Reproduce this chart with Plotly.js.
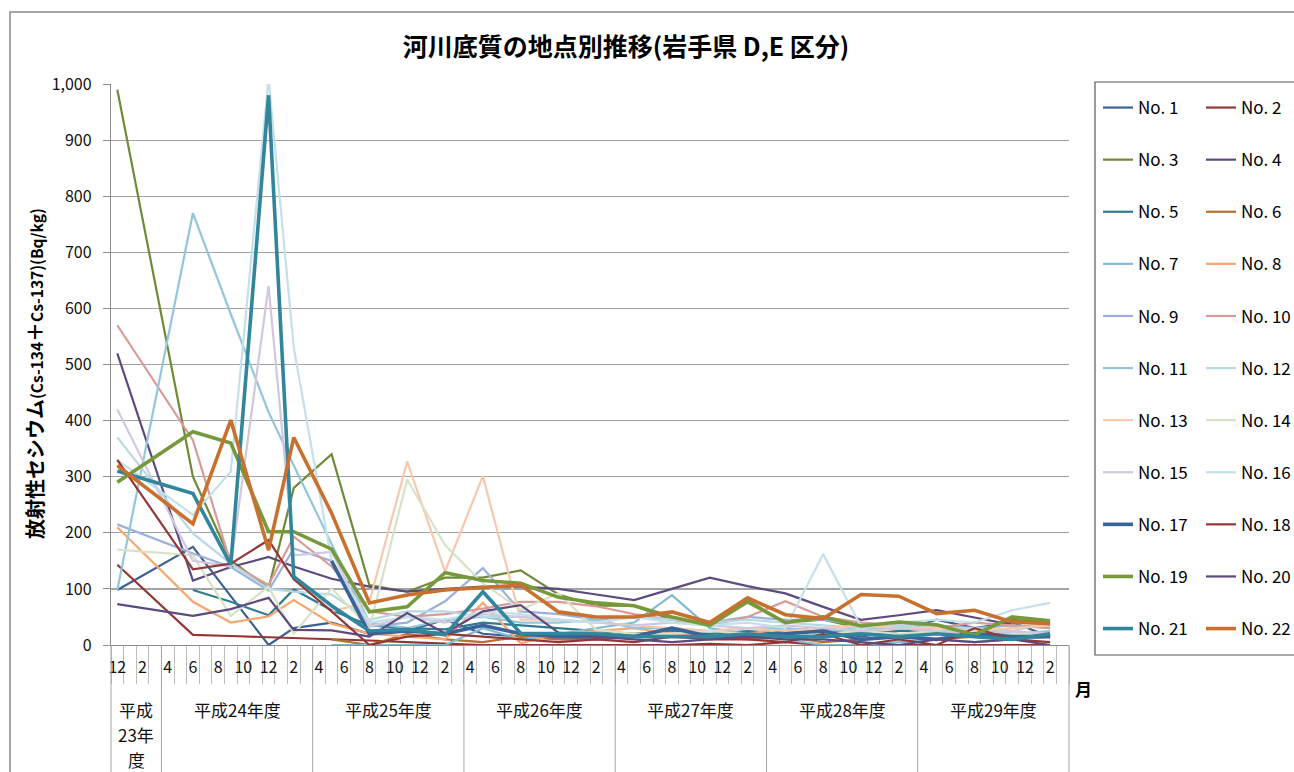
<!DOCTYPE html>
<html>
<head>
<meta charset="utf-8">
<script src="https://cdn.plot.ly/plotly-3.0.1.min.js"></script>
<style>html,body{margin:0;padding:0;background:#fff;}#chart{width:1294px;height:772px;}</style>
</head>
<body>
<div id="chart"></div>
<script>
// Sampling dates (year-month)
const sampleDates = ['2011-12','2012-06','2012-09','2012-12','2013-02','2013-05','2013-08','2013-11','2014-02','2014-05','2014-08','2014-11','2015-02','2015-05','2015-08','2015-11','2016-02','2016-05','2016-08','2016-11','2017-02','2017-05','2017-08','2017-11','2018-02'];

// Month labels of the category axis (Dec 2011 .. Mar 2018)
const axisMonths = ['12','1','2','3',
 '4','5','6','7','8','9','10','11','12','1','2','3',
 '4','5','6','7','8','9','10','11','12','1','2','3',
 '4','5','6','7','8','9','10','11','12','1','2','3',
 '4','5','6','7','8','9','10','11','12','1','2','3',
 '4','5','6','7','8','9','10','11','12','1','2','3',
 '4','5','6','7','8','9','10','11','12','1','2','3'];

// Fiscal year group labels (lines) and their month counts
const fiscalYears = [['平成','23年','度'],['平成24年度'],['平成25年度'],['平成26年度'],['平成27年度'],['平成28年度'],['平成29年度']];
const fiscalMonths = [4,12,12,12,12,12,12];

const seriesNames = ['No. 1','No. 2','No. 3','No. 4','No. 5','No. 6','No. 7','No. 8','No. 9','No. 10','No. 11','No. 12','No. 13','No. 14','No. 15','No. 16','No. 17','No. 18','No. 19','No. 20','No. 21','No. 22'];

const no1  = [98,175,87,0,30,40,20,25,45,20,15,15,10,15,30,15,15,25,30,15,25,45,30,40,15];
const no2  = [143,18,16,14,13,11,8,5,2,0,0,0,0,0,0,2,0,5,0,0,0,0,0,0,0];
const no3  = [990,300,151,101,280,340,107,95,120,120,133,90,70,70,45,35,80,40,45,30,40,35,20,45,40];
const no4  = [520,115,139,157,140,118,104,95,100,104,104,100,90,80,100,120,105,92,68,45,53,62,49,36,null];
const no5  = [null,98,77,53,99,62,35,30,28,40,35,30,25,20,25,20,25,20,30,20,25,25,20,20,20];
const no6  = [null,null,null,null,null,10,0,20,10,5,15,10,10,20,20,15,10,15,5,10,15,10,15,10,15];
const no7  = [null,null,null,null,null,0,0,0,0,30,10,20,30,40,89,30,20,10,0,0,5,10,5,10,15];
const no8  = [210,77,40,51,80,38,20,15,10,75,3,20,25,30,20,15,20,30,20,25,30,25,20,30,35];
const no9  = [215,163,139,97,172,150,33,40,78,137,60,55,45,50,45,40,50,45,45,35,40,35,30,35,30];
const no10 = [570,365,145,107,193,140,60,50,55,65,77,77,69,55,45,35,50,78,50,40,35,30,40,35,30];
const no11 = [98,770,590,415,320,180,40,30,45,50,40,40,45,30,30,25,30,30,25,30,30,25,30,20,25];
const no12 = [370,199,145,100,95,90,45,60,60,50,50,45,40,50,45,40,45,40,35,30,35,30,30,25,40];
const no13 = [null,null,null,null,null,60,77,327,131,301,45,45,40,35,30,25,30,25,30,35,30,30,25,30,35];
const no14 = [170,160,52,104,20,101,30,295,178,110,63,92,27,20,20,25,20,15,20,25,20,25,15,20,20];
const no15 = [420,150,140,640,160,166,33,50,40,55,50,45,40,35,40,35,30,35,30,25,30,25,20,25,20];
const no16 = [330,232,309,1010,530,150,40,50,45,60,55,45,40,50,40,35,40,30,162,33,40,45,40,62,75];
const no17 = [null,null,null,null,null,150,20,25,20,35,20,15,15,15,30,15,15,20,25,10,15,10,20,15,15];
const no18 = [330,135,145,187,117,60,0,15,20,15,10,5,10,5,15,10,10,5,20,0,10,0,30,10,5];
const no19 = [290,380,360,202,202,171,59,68,129,115,110,85,75,70,50,35,77,40,50,34,41,36,18,50,43];
const no20 = [73,52,64,84,27,26,15,57,21,60,71,22,15,10,5,10,15,10,10,5,0,10,5,10,0];
const no21 = [310,270,143,980,122,70,25,28,18,95,21,20,20,15,15,15,20,15,15,20,15,20,15,10,20];
const no22 = [320,216,401,169,370,235,75,89,98,103,107,59,50,50,59,40,84,54,47,90,87,56,62,41,38];

const allSeries = [no1,no2,no3,no4,no5,no6,no7,no8,no9,no10,no11,no12,no13,no14,no15,no16,no17,no18,no19,no20,no21,no22];

const colors = ['#3B6193','#943634','#6F8A36','#5F4A7E','#2F7C90','#B8702E',
  '#80BCD6','#F9A66F','#9BB1DB','#D99A98','#93C6DA','#B6D9E4',
  '#F8C8AE','#D6E3C6','#D1C8DD','#C4E0E9',
  '#3A6499','#953735','#77993C','#5E4A7E','#31869B','#C8712E'];
const thick = [false,false,false,false,false,false,false,false,false,false,false,false,false,false,false,false,true,false,true,false,true,true];

// map year-month to category index (first category = Dec 2011)
function catIndex(d){ const p=d.split('-'); return (parseInt(p[0])-2011)*12 + (parseInt(p[1])-12); }
const xs = sampleDates.map(catIndex);
const nCat = axisMonths.length;

const FONT = '"Noto Sans CJK JP", "Noto Sans", sans-serif';

const traces = allSeries.map((vals,i)=>({
  type:'scatter', mode:'lines', x: xs, y: vals, name: seriesNames[i],
  connectgaps:true,
  line:{color:colors[i], width: thick[i]?3.6:2.2},
  legend: (i%2===0)?'legend':'legend2',
  legendgroup:'g'+i,
  hoverinfo:'x+y+name'
}));

// axis tick values: every second category
const tickvals=[], ticktext=[];
for(let i=0;i<nCat;i+=2){ tickvals.push(i); ticktext.push(axisMonths[i]); }

const L=111, R=1069, T=84, B=645, W=1294, H=772;
const pw=R-L, ph=B-T;
const px2x = p => (p-L)/pw;
const py2y = p => (B-p)/ph;

const shapes=[], annotations=[];
// fiscal-year dividers
let acc=0;
const bounds=[0];
fiscalMonths.forEach(m=>{acc+=m; bounds.push(acc);});
bounds.forEach(b=>{
  shapes.push({type:'line', xref:'paper', yref:'paper', x0:b/nCat, x1:b/nCat, y0:0, y1:py2y(H+5), line:{color:'#a6a6a6', width:1}});
});
fiscalYears.forEach((lines,k)=>{
  const c=(bounds[k]+bounds[k+1])/2/nCat;
  lines.forEach((t,j)=>{
    annotations.push({xref:'paper', yref:'paper', x:c, y: py2y(709 + j*25), text:t, showarrow:false,
      xanchor:'center', yanchor:'middle', font:{family:FONT, size:17, color:'#111'}});
  });
});
annotations.push({xref:'paper', yref:'paper', x:px2x(1083), y:py2y(688), text:'<b>月</b>', showarrow:false,
  xanchor:'center', yanchor:'middle', font:{family:FONT, size:17, color:'#000'}});
// y-axis title
annotations.push({xref:'paper', yref:'paper', x:px2x(35), y:py2y(374), textangle:-90, showarrow:false,
  xanchor:'center', yanchor:'middle',
  text:'<b>放射性セシウム<span style="font-size:15.5px">(Cs-134</span>＋<span style="font-size:15.5px">Cs-137)(Bq/kg)</span></b>',
  font:{family:FONT, size:20, color:'#000'}});

// chart frame
shapes.push({type:'rect', xref:'paper', yref:'paper', x0:px2x(10), x1:px2x(1310), y0:py2y(12), y1:py2y(790), line:{color:'#8a8a8a', width:1.5}, layer:'below'});
// legend frame
shapes.push({type:'rect', xref:'paper', yref:'paper', x0:px2x(1095), x1:px2x(1310), y0:py2y(82), y1:py2y(655), line:{color:'#595959', width:1.2}});

const legendCommon = {font:{family:FONT, size:17, color:'#000'}, bgcolor:'rgba(0,0,0,0)', borderwidth:0,
  tracegroupgap:27, xanchor:'left', yanchor:'top', itemclick:false, itemdoubleclick:false, orientation:'v'};

const layout = {
  width:W, height:H,
  margin:{l:L, r:W-R, t:T, b:H-B, autoexpand:false},
  paper_bgcolor:'#fff', plot_bgcolor:'#fff',
  title:{text:'河川底質の地点別推移(岩手県 D,E 区分)', xref:'container', x:626/W, y:1-47/H, yanchor:'middle', xanchor:'center',
    font:{family:FONT, size:25, color:'#000', weight:700}},
  showlegend:true,
  legend: Object.assign({x:px2x(1098), y:py2y(90)}, legendCommon),
  legend2: Object.assign({x:px2x(1201), y:py2y(90)}, legendCommon),
  xaxis:{type:'linear', range:[-0.5, nCat-0.5], tickmode:'array', tickvals:tickvals, ticktext:ticktext,
    ticks:'outside', ticklen:8, tickcolor:'rgba(0,0,0,0)', showgrid:false, zeroline:false,
    showline:true, linecolor:'#8c8c8c', linewidth:1.2,
    tickfont:{family:FONT, size:16, color:'#111'}, tickangle:0,
    minor:{tickmode:'linear', tick0:-0.5, dtick:1, ticks:'outside', ticklen:38, tickcolor:'#bdbdbd', tickwidth:1, showgrid:false},
    fixedrange:true},
  yaxis:{range:[0,1000], dtick:100, tick0:0, tickformat:',d', showgrid:true, gridcolor:'#a3a3a3', gridwidth:1.2,
    zeroline:false, showline:true, linecolor:'#8c8c8c', linewidth:1.2, ticks:'outside', ticklen:7, tickcolor:'#8c8c8c',
    ticklabelstandoff:8,
    tickfont:{family:FONT, size:16, color:'#111'},
    fixedrange:true},
  shapes:shapes, annotations:annotations
};

Plotly.newPlot('chart', traces, layout, {displayModeBar:false, staticPlot:true});
</script>
</body>
</html>
